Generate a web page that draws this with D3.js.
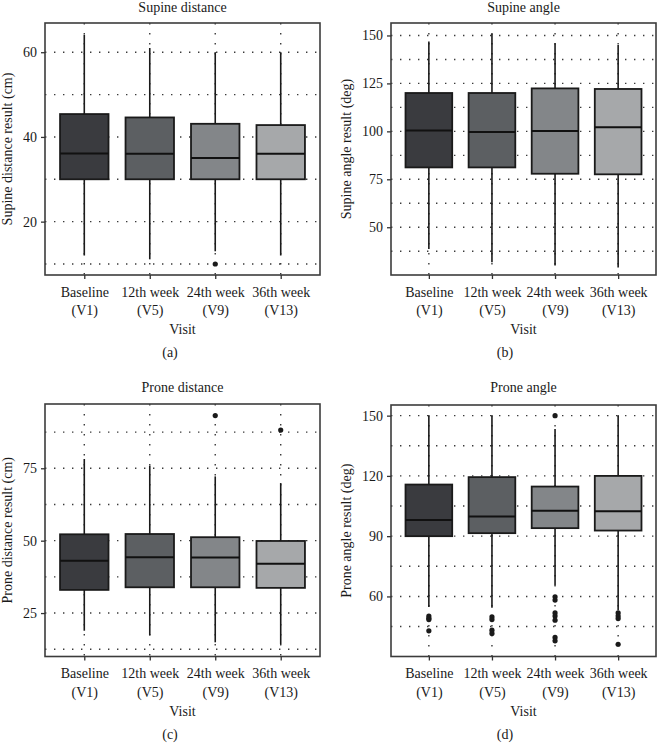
<!DOCTYPE html>
<html>
<head>
<meta charset="utf-8">
<script src="https://cdn.jsdelivr.net/npm/d3@7"></script>
<style>
  html, body { margin: 0; padding: 0; background: #fff; }
  svg { display: block; }
  text { font-family: "Liberation Serif", "Times New Roman", serif; fill: #1a1a1a; }
</style>
</head>
<body>
<svg id="chart" width="661" height="752"></svg>
<script>
// ---------- data ----------
const visitNames = ["Baseline", "12th week", "24th week", "36th week"];
const visitCodes = ["(V1)", "(V5)", "(V9)", "(V13)"];
const boxColors = ["#3a3b3f", "#5c5f62", "#838689", "#a6a8aa"];

// [lower whisker, Q1, median, Q3, upper whisker]
const supineDistanceStats = [
  [12.0, 30.0, 36.1, 45.4, 64.1],
  [11.1, 30.0, 36.0, 44.6, 61.0],
  [13.0, 30.0, 35.0, 43.1, 60.0],
  [12.0, 30.0, 36.0, 42.8, 60.0]
];
const supineDistanceOutliers = [[], [], [10.0], []];
const supineDistanceTicks = [20, 40, 60];

const supineAngleStats = [
  [38.7, 81.2, 100.5, 120.0, 146.9],
  [31.7, 81.2, 99.7, 120.0, 150.9],
  [30.0, 77.9, 100.2, 122.4, 146.0],
  [29.0, 77.6, 102.1, 122.1, 145.0]
];
const supineAngleOutliers = [[], [], [], []];
const supineAngleTicks = [50, 75, 100, 125, 150];

const proneDistanceStats = [
  [18.9, 33.0, 43.1, 52.2, 78.2],
  [17.3, 33.9, 44.3, 52.3, 75.9],
  [14.9, 33.9, 44.2, 51.2, 72.2],
  [14.2, 33.7, 42.0, 49.9, 69.9]
];
const proneDistanceOutliers = [[], [], [93.2], [88.2]];
const proneDistanceTicks = [25, 50, 75];

const proneAngleStats = [
  [54.8, 90.0, 98.0, 115.7, 150.0],
  [54.4, 91.5, 99.8, 119.4, 150.0],
  [65.6, 94.0, 102.6, 114.7, 143.3],
  [53.1, 92.8, 102.4, 120.0, 150.0]
];
const proneAngleOutliers = [
  [50.2, 49.2, 48.5, 42.9],
  [49.8, 48.5, 43.2, 41.6],
  [150.0, 59.8, 58.2, 51.8, 50.2, 48.2, 39.6, 37.9],
  [51.8, 50.2, 49.0, 36.2]
];
const proneAngleTicks = [60, 90, 120, 150];

// ---------- layout ----------
const panels = [
  { title: "Supine distance", ylabel: "Supine distance result (cm)", tag: "(a)",
    stats: supineDistanceStats, outliers: supineDistanceOutliers, ticks: supineDistanceTicks,
    yMin: 7.4, yMax: 66.9, x0: 45, x1: 320, y0: 23, y1: 275, titleY: 12, ylabX: 12, tagX: 170 },
  { title: "Supine angle", ylabel: "Supine angle result (deg)", tag: "(b)",
    stats: supineAngleStats, outliers: supineAngleOutliers, ticks: supineAngleTicks,
    yMin: 25.1, yMax: 156.5, x0: 391, x1: 656, y0: 23, y1: 275, titleY: 12, ylabX: 351, tagX: 505 },
  { title: "Prone distance", ylabel: "Prone distance result (cm)", tag: "(c)",
    stats: proneDistanceStats, outliers: proneDistanceOutliers, ticks: proneDistanceTicks,
    yMin: 10.0, yMax: 97.2, x0: 45, x1: 320, y0: 404, y1: 656.5, titleY: 392, ylabX: 12, tagX: 170 },
  { title: "Prone angle", ylabel: "Prone angle result (deg)", tag: "(d)",
    stats: proneAngleStats, outliers: proneAngleOutliers, ticks: proneAngleTicks,
    yMin: 30.1, yMax: 155.3, x0: 391, x1: 656, y0: 405, y1: 656.5, titleY: 392, ylabX: 351, tagX: 505 }
];

const svg = d3.select("#chart");
const FS = 14;

panels.forEach(p => {
  const g = svg.append("g");
  const x = d3.scalePoint().domain(visitNames).range([p.x0, p.x1]).padding(0.6);
  const y = d3.scaleLinear().domain([p.yMin, p.yMax]).range([p.y1, p.y0]);
  const step = x.step();
  const bw = step * 0.74;

  // grid: majors + half-steps
  const tstep = p.ticks[1] - p.ticks[0];
  const gridVals = d3.range(p.ticks[0] - tstep * 2, p.ticks[p.ticks.length - 1] + tstep * 2 + 0.001, tstep / 2)
    .filter(v => v > p.yMin && v < p.yMax);
  g.append("g").selectAll("line").data(gridVals).join("line")
    .attr("x1", p.x0).attr("x2", p.x1)
    .attr("y1", d => y(d)).attr("y2", d => y(d))
    .attr("stroke", "#3a3a3a").attr("stroke-width", 1.4)
    .attr("stroke-dasharray", "1.4,7.6");
  g.append("g").selectAll("line").data(visitNames).join("line")
    .attr("x1", d => x(d)).attr("x2", d => x(d))
    .attr("y1", p.y0).attr("y2", p.y1)
    .attr("stroke", "#3a3a3a").attr("stroke-width", 1.4)
    .attr("stroke-dasharray", "1.4,8.6");

  // whiskers
  const bx = g.append("g").selectAll("g").data(p.stats).join("g");
  bx.append("line")
    .attr("x1", (d, i) => x(visitNames[i])).attr("x2", (d, i) => x(visitNames[i]))
    .attr("y1", d => y(d[4])).attr("y2", d => y(d[0]))
    .attr("stroke", "#1a1a1a").attr("stroke-width", 1.6);
  bx.append("rect")
    .attr("x", (d, i) => x(visitNames[i]) - bw / 2)
    .attr("width", bw)
    .attr("y", d => y(d[3]))
    .attr("height", d => y(d[1]) - y(d[3]))
    .attr("fill", (d, i) => boxColors[i])
    .attr("stroke", "#1a1a1a").attr("stroke-width", 1.8);
  bx.append("line")
    .attr("x1", (d, i) => x(visitNames[i]) - bw / 2).attr("x2", (d, i) => x(visitNames[i]) + bw / 2)
    .attr("y1", d => y(d[2])).attr("y2", d => y(d[2]))
    .attr("stroke", "#111").attr("stroke-width", 2);

  // outliers
  p.outliers.forEach((arr, i) => {
    g.append("g").selectAll("circle").data(arr).join("circle")
      .attr("cx", x(visitNames[i])).attr("cy", d => y(d)).attr("r", 2.6)
      .attr("fill", "#1a1a1a");
  });

  // frame
  g.append("rect").attr("x", p.x0).attr("y", p.y0)
    .attr("width", p.x1 - p.x0).attr("height", p.y1 - p.y0)
    .attr("fill", "none").attr("stroke", "#3c3c3c").attr("stroke-width", 1.6);

  // y axis
  const ya = g.append("g").attr("transform", `translate(${p.x0},0)`)
    .call(d3.axisLeft(y).tickValues(p.ticks).tickSize(4).tickPadding(4).tickFormat(d3.format("d")));
  ya.select(".domain").remove();
  ya.selectAll(".tick line").attr("stroke", "#333").attr("stroke-width", 1.3);
  ya.selectAll(".tick text").attr("font-size", FS).attr("font-family", "Liberation Serif").attr("fill", "#1a1a1a");

  // x axis
  const xa = g.append("g").attr("transform", `translate(0,${p.y1})`)
    .call(d3.axisBottom(x).tickSize(4).tickPadding(8));
  xa.select(".domain").remove();
  xa.selectAll(".tick line").attr("stroke", "#333").attr("stroke-width", 1.3);
  xa.selectAll(".tick text").remove();
  xa.selectAll(".tick").append("text")
    .attr("y", 21.5).attr("text-anchor", "middle")
    .attr("font-size", FS).attr("fill", "#1a1a1a")
    .text(d => d);
  xa.selectAll(".tick").append("text")
    .attr("y", 40).attr("text-anchor", "middle")
    .attr("font-size", FS).attr("fill", "#1a1a1a")
    .text(d => visitCodes[visitNames.indexOf(d)]);

  const cx = (p.x0 + p.x1) / 2;
  g.append("text").attr("x", cx).attr("y", p.y1 + 59).attr("text-anchor", "middle")
    .attr("font-size", FS).text("Visit");
  g.append("text").attr("x", cx).attr("y", p.titleY).attr("text-anchor", "middle")
    .attr("font-size", FS).text(p.title);
  g.append("text")
    .attr("transform", `translate(${p.ylabX},${(p.y0 + p.y1) / 2}) rotate(-90)`)
    .attr("text-anchor", "middle").attr("font-size", FS).text(p.ylabel);
  g.append("text").attr("x", p.tagX).attr("y", p.y1 + 82).attr("text-anchor", "middle")
    .attr("font-size", FS).text(p.tag);
});
</script>
</body>
</html>
